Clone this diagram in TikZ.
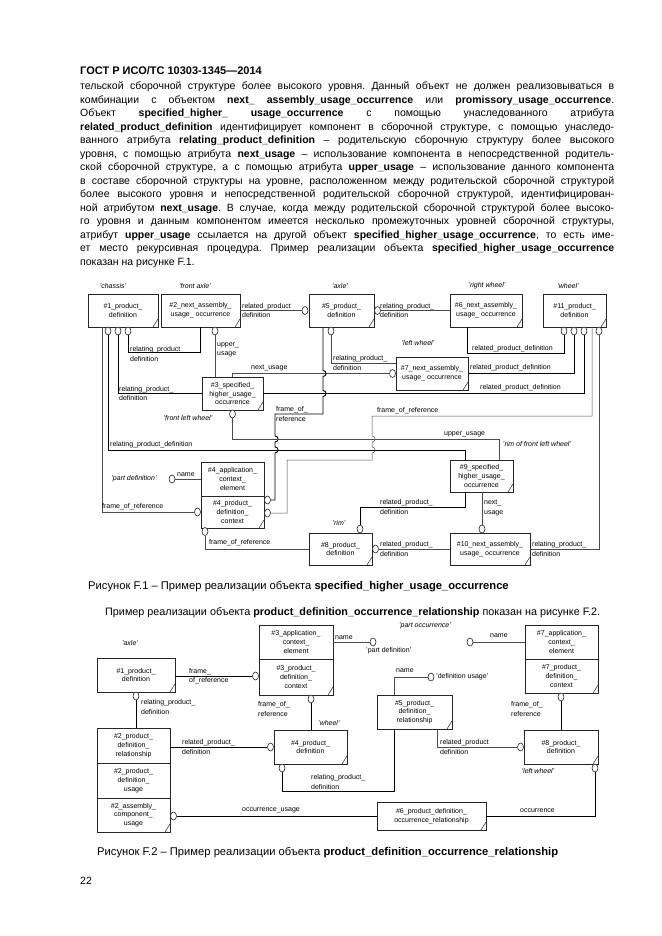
\documentclass[tikz,border=0pt]{standalone}
\usepackage{fontspec}
\setmainfont{Liberation Sans}
\usetikzlibrary{shapes.geometric}
\frenchspacing

\newcommand{\dgfont}{\fontsize{7}{8.8}\selectfont}
\newcommand{\lblfont}{\fontsize{7}{9.6}\selectfont}
\newcommand{\txtfont}{\fontsize{10.5}{13.5}\selectfont}
\newcommand{\capfont}{\fontsize{10.8}{13}\selectfont}
\newcommand{\figcapfont}{\fontsize{11.2}{13}\selectfont}
\newcommand{\fullline}[1]{\makebox[534pt][s]{#1}\\}

\tikzset{
  box/.style={draw=black!85, line width=0.6pt, align=center, font=\dgfont, inner sep=0pt},
  corner/.style={path picture={\draw[line width=0.5pt] ([xshift=-5pt]path picture bounding box.south east) -- ([yshift=8pt]path picture bounding box.south east);}},
  ring/.style={ellipse, draw=black!85, fill=white, line width=0.6pt, minimum width=6pt, minimum height=8pt, inner sep=0pt},
  lnk/.style={draw=black!70, line width=0.5pt},
  lnkb/.style={draw=black, line width=0.9pt},
  lbl/.style={font=\lblfont, inner sep=0pt, align=left},
  qlbl/.style={font=\dgfont\itshape, inner sep=0pt}
}

\begin{document}
\begin{tikzpicture}[x=1pt,y=-1pt]
\fill[white] (0,0) rectangle (661,936);
\useasboundingbox (0,0) rectangle (661,936);

% page text
\node[anchor=base west, inner sep=0pt, font=\fontsize{11}{13}\selectfont\bfseries] (hdr) at (80,75) {ГОСТ Р ИСО/ТС 10303-1345—2014};
\node[anchor=north west, inner sep=0pt, align=left, font=\txtfont] (body) at (80,82) {%
\fullline{тельской сборочной структуре более высокого уровня. Данный объект не должен реализовываться в}%
\fullline{комбинации с объектом \textbf{next\_ assembly\_usage\_occurrence} или \textbf{promissory\_usage\_occurrence}.}%
\fullline{Объект \textbf{specified\_higher\_ usage\_occurrence} с помощью унаследованного атрибута}%
\fullline{\textbf{related\_product\_definition} идентифицирует компонент в сборочной структуре, с помощью унаследо-}%
\fullline{ванного атрибута \textbf{relating\_product\_definition} – родительскую сборочную структуру более высокого}%
\fullline{уровня, с помощью атрибута \textbf{next\_usage} – использование компонента в непосредственной родитель-}%
\fullline{ской сборочной структуре, а с помощью атрибута \textbf{upper\_usage} – использование данного компонента}%
\fullline{в составе сборочной структуры на уровне, расположенном между родительской сборочной структурой}%
\fullline{более высокого уровня и непосредственной родительской сборочной структурой, идентифицирован-}%
\fullline{ной атрибутом \textbf{next\_usage}. В случае, когда между родительской сборочной структурой более высоко-}%
\fullline{го уровня и данным компонентом имеется несколько промежуточных уровней сборочной структуры,}%
\fullline{атрибут \textbf{upper\_usage} ссылается на другой объект \textbf{specified\_higher\_usage\_occurrence}, то есть име-}%
\fullline{ет место рекурсивная процедура. Пример реализации объекта \textbf{specified\_higher\_usage\_occurrence}}%
показан на рисунке F.1.};
\node[anchor=base west, inner sep=0pt, font=\figcapfont] (cap1) at (88,589) {Рисунок F.1 – Пример реализации объекта \textbf{specified\_higher\_usage\_occurrence}};
\node[anchor=base west, inner sep=0pt, font=\capfont] (intro2) at (105,615) {Пример реализации объекта \textbf{product\_definition\_occurrence\_relationship} показан на рисунке F.2.};
\node[anchor=base west, inner sep=0pt, font=\figcapfont] (cap2) at (97,855) {Рисунок F.2 – Пример реализации объекта \textbf{product\_definition\_occurrence\_relationship}};
\node[anchor=base west, inner sep=0pt, font=\txtfont] (pg) at (80,884) {22};

% ---- figure F.1: boxes
\node[box, corner, minimum width=70, minimum height=33] (p1) at (123,310.5) {\#1\_product\_\\definition};
\node[box, corner, minimum width=79, minimum height=33] (n2) at (200.5,310.5) {\#2\_next\_assembly\_\\usage\_ occurrence};
\node[box, corner, minimum width=65, minimum height=33] (p5) at (341.5,310.5) {\#5\_product\_\\definition};
\node[box, corner, minimum width=72, minimum height=33] (n6) at (486,310.5) {\#6\_next\_assembly\_\\usage\_ occurrence};
\node[box, corner, minimum width=63, minimum height=33] (p11) at (574.5,310.5) {\#11\_product\_\\definition};
\node[box, corner, minimum width=61, minimum height=33] (s3) at (232.5,393.5) {\#3\_specified\_\\higher\_usage\_\\occurrence};
\node[box, corner, minimum width=72, minimum height=33] (n7) at (432,373.5) {\#7\_next\_assembly\_\\usage\_ occurrence};
\node[box, minimum width=63, minimum height=34] (c4a) at (232.5,479) {\#4\_application\_\\context\_\\element};
\node[box, corner, minimum width=63, minimum height=32] (c4b) at (232.5,512) {\#4\_product\_\\definition\_\\context};
\node[box, corner, minimum width=63, minimum height=32] (s9) at (481.5,476) {\#9\_specified\_\\higher\_usage\_\\occurrence};
\node[box, corner, minimum width=63, minimum height=32] (p8) at (340.5,549) {\#8\_product\_\\definition};
\node[box, corner, minimum width=80, minimum height=32] (n10) at (490,549) {\#10\_next\_assembly\_\\usage\_ occurrence};

\begin{scope}[every node/.style={ring}]
  \node (r1a) at (108,331) {};
  \node (r1b) at (118,331) {};
  \node (r1c) at (128,331) {};
  \node (r2) at (215,331) {};
  \node (r5w) at (305,310.5) {};
  \node (r5e) at (377.5,310.5) {};
  \node (r5s) at (331,331) {};
  \node (r11a) at (564,331) {};
  \node (r11b) at (574,331) {};
  \node (r11c) at (584,331) {};
  \node (r11d) at (599,331) {};
  \node (r7w) at (392.5,373.5) {};
  \node (r3s) at (232.5,414) {};
  \node (rpd) at (172,479) {};
  \node (r4w) at (197.5,512) {};
  \node (r4e1) at (267.5,500) {};
  \node (r4e2) at (267.5,513) {};
  \node (r4s) at (205,531.5) {};
  \node (r8n) at (360,529) {};
  \node (r8e) at (375.5,549) {};
  \node (r10n) at (482,529) {};
\end{scope}

\draw[lnk] (n2.east) -- (r5w);
\draw[lnk] (r5e) -- (n6.west);
\draw[lnkb] ([xshift=-19pt]n6.south) -- ++(0,26) -| (r11a);
\draw[lnkb] (n7.east) -| (r11b);
\draw[lnkb] (s3.east) -| (r11c);
\draw[lnk] (s3.north) |- (r7w);
\draw[lnkb] ([xshift=-18.5pt]p5.south) -- (323,370.5) .. controls +(4,0) and +(4,0) .. (323,376.5)
  -- (323,390.5) .. controls +(4,0) and +(4,0) .. (323,396.5) -- (323,414) -- (275,414)
  -- (275,436) .. controls +(4,0) and +(4,0) .. (275,442)
  -- (275,447) .. controls +(4,0) and +(4,0) .. (275,453) -- (275,500) -- (r4e1);
\draw[lnk] ([xshift=17.5pt]p11.south) -- (592,416) -- (372,416)
  -- (372,436) .. controls +(4,0) and +(4,0) .. (372,442)
  -- (372,447) .. controls +(4,0) and +(4,0) .. (372,453) -- (372,460) -- (287,460) -- (287,513) -- (r4e2);
\draw[lnk] (r5s) |- ([yshift=10.5pt]n7.west);
\draw[lnk] ([xshift=-17.5pt]s3.north) -- (r2);
\draw[lnkb] (n2.south) -- ++(0,25) -| (r1c);
\draw[lnkb] (r1b) |- (s3.west);
\draw[lnkb] (r1a) -- ++(0,119) -| ([xshift=-16.5pt]s9.north);
\draw[lnk] (r3s) -- ++(0,25) -| ([xshift=17.5pt]s9.north);
\draw[lnk] ([xshift=-21pt]p1.south) |- (r4w);
\draw[lnk] (rpd) -- (c4a);
\draw[lnk] (r4s) |- (p8.west);
\draw[lnkb] ([xshift=-16.5pt]s9.south) -- ++(0,15) -| (r8n);
\draw[lnk] (r10n |- s9.south) -- (r10n);
\draw[lnk] (r8e) -- (n10.west);
\draw[lnk] (n10.east) -| (r11d);

\begin{scope}[every node/.style={lbl}]
  \node[anchor=west] (la) at (242,310.5) {related\_product\\definition};
  \node[anchor=west] (lb) at (380,310.5) {relating\_product\_\\definition};
  \node[anchor=south west] (lc) at (472,352) {related\_product\_definition};
  \node[anchor=south west] (ld) at (470,371.5) {related\_product\_definition};
  \node[anchor=south west] (le) at (480,391.5) {related\_product\_definition};
  \node[anchor=south west] (li) at (251,371.5) {next\_usage};
  \node[anchor=west] (lg) at (276,414) {frame\_of\_\\reference};
  \node[anchor=south west] (lf) at (377,414) {frame\_of\_reference};
  \node[anchor=west] (lh) at (333,363) {relating\_product\_\\definition};
  \node[anchor=west] (lt) at (217,350) {upper\_\\usage};
  \node[anchor=west] (lr1) at (130,354) {relating\_product\_\\definition};
  \node[anchor=west] (lr2) at (119,393.5) {relating\_product\_\\definition};
  \node[anchor=south west] (lk) at (110,448) {relating\_product\_definition};
  \node[anchor=south west] (lj) at (444,437) {upper\_usage};
  \node[anchor=south west] (ll) at (102,510) {frame\_of\_reference};
  \node[anchor=south west] (lm) at (177,477) {name};
  \node[anchor=south west] (ln) at (209,546) {frame\_of\_reference};
  \node[anchor=west] (lo) at (380,507) {related\_product\_\\definition};
  \node[anchor=west] (lp) at (484,508) {next\_\\usage};
  \node[anchor=west] (lq) at (380,549) {related\_product\_\\definition};
  \node[anchor=west] (lrr) at (532,549) {relating\_product\_\\definition};
\end{scope}

\begin{scope}[every node/.style={qlbl}]
  \node (qa) at (113,286) {'chassis'};
  \node (qb) at (195,286) {'front axle'};
  \node (qc) at (340,286) {'axle'};
  \node (qd) at (487,286) {'right wheel'};
  \node (qe) at (568,286) {'wheel'};
  \node (qf) at (418,343) {'left wheel'};
  \node (qg) at (188,418) {'front left wheel'};
  \node (qh) at (134,479) {'part definition'};
  \node (qi) at (537,444) {'rim of front left wheel'};
  \node (qj) at (339,523) {'rim'};
\end{scope}

% ---- figure F.2: boxes
\node[box, corner, minimum width=78, minimum height=34] (q1) at (136,675) {\#1\_product\_\\definition};
\node[box, minimum width=74, minimum height=34] (q3a) at (296,642) {\#3\_application\_\\context\_\\element};
\node[box, corner, minimum width=74, minimum height=36] (q3b) at (296,677) {\#3\_product\_\\definition\_\\context};
\node[box, minimum width=73, minimum height=34] (q7a) at (561.5,642) {\#7\_application\_\\context\_\\element};
\node[box, corner, minimum width=73, minimum height=34] (q7b) at (561.5,676) {\#7\_product\_\\definition\_\\context};
\node[box, minimum width=73, minimum height=35] (q2a) at (133.5,745.5) {\#2\_product\_\\definition\_\\relationship};
\node[box, minimum width=73, minimum height=35] (q2b) at (133.5,780.5) {\#2\_product\_\\definition\_\\usage};
\node[box, corner, minimum width=73, minimum height=34] (q2c) at (133.5,815) {\#2\_assembly\_\\component\_\\usage};
\node[box, corner, minimum width=73, minimum height=34] (q4) at (310.5,747) {\#4\_product\_\\definition};
\node[box, corner, minimum width=75, minimum height=34] (q5) at (414.5,712) {\#5\_product\_\\definition\_\\relationship};
\node[box, corner, minimum width=74, minimum height=34] (q8) at (561,747) {\#8\_product\_\\definition};
\node[box, corner, minimum width=109, minimum height=28] (q6) at (431.5,816) {\#6\_product\_definition\_\\occurrence\_relationship};

\begin{scope}[every node/.style={ring}]
  \node (s3w) at (255.5,676) {};
  \node (s1s) at (136,696) {};
  \node (spd) at (373,642) {};
  \node (s7w) at (470,642) {};
  \node (s3s) at (311,699) {};
  \node (s7s) at (561,697) {};
  \node (s4w) at (270.5,747) {};
  \node (s4s) at (282,768) {};
  \node (sdu) at (431,677) {};
  \node (s8w) at (520.5,747) {};
  \node (s8s) at (595,768) {};
  \node (s2e) at (173.5,816) {};
\end{scope}

\draw[lnkb] (s3w -| q1.east) -- (s3w);
\draw[lnkb] (s1s) -- (s1s |- q2a.north);
\draw[lnk] (q3a.east) -- (spd);
\draw[lnk] (s7w) -- (q7a.west);
\draw[lnkb] (s3s) -- (s3s |- q4.north);
\draw[lnkb] (s7s) -- (s7s |- q8.north);
\draw[lnkb] (s4w -| q2a.east) -- (s4w);
\draw[lnk] ([xshift=-20.5pt]q5.north) |- (sdu);
\draw[lnkb] ([xshift=-20.5pt]q5.south) -- ++(0,62) -| (s4s);
\draw[lnk] ([xshift=22.5pt]q5.south) |- (s8w);
\draw[lnkb] (s2e) -- (q6.west);
\draw[lnkb] (q6.east) -| (s8s);

\begin{scope}[every node/.style={lbl}]
  \node[anchor=west] (m1) at (189,676) {frame\_\\of\_reference};
  \node[anchor=west] (m2) at (141,707) {relating\_product\_\\definition};
  \node[anchor=south west] (m3) at (335,640) {name};
  \node[anchor=west] (m4) at (366,651) {'part definition'};
  \node[anchor=south west] (m5) at (490,638) {name};
  \node[anchor=west] (m6) at (258,709) {frame\_of\_\\reference};
  \node[anchor=west] (m7) at (511,709) {frame\_of\_\\reference};
  \node[anchor=west] (m8) at (182,747) {related\_product\_\\definition};
  \node[anchor=south west] (m9) at (396,673) {name};
  \node[anchor=west] (m10) at (436,677) {'definition usage'};
  \node[anchor=west] (m11) at (311,782) {relating\_product\_\\definition};
  \node[anchor=west] (m12) at (440,747) {related\_product\\definition};
  \node[anchor=south west] (m13) at (242,813) {occurrence\_usage};
  \node[anchor=south west] (m14) at (520,813) {occurrence};
\end{scope}

\begin{scope}[every node/.style={qlbl}]
  \node (t1) at (130,643) {'axle'};
  \node (t2) at (425,626) {'part occurrence'};
  \node[anchor=west] (t3) at (318,723) {'wheel'};
  \node (t4) at (538,771) {'left wheel'};
\end{scope}
\end{tikzpicture}
\end{document}
